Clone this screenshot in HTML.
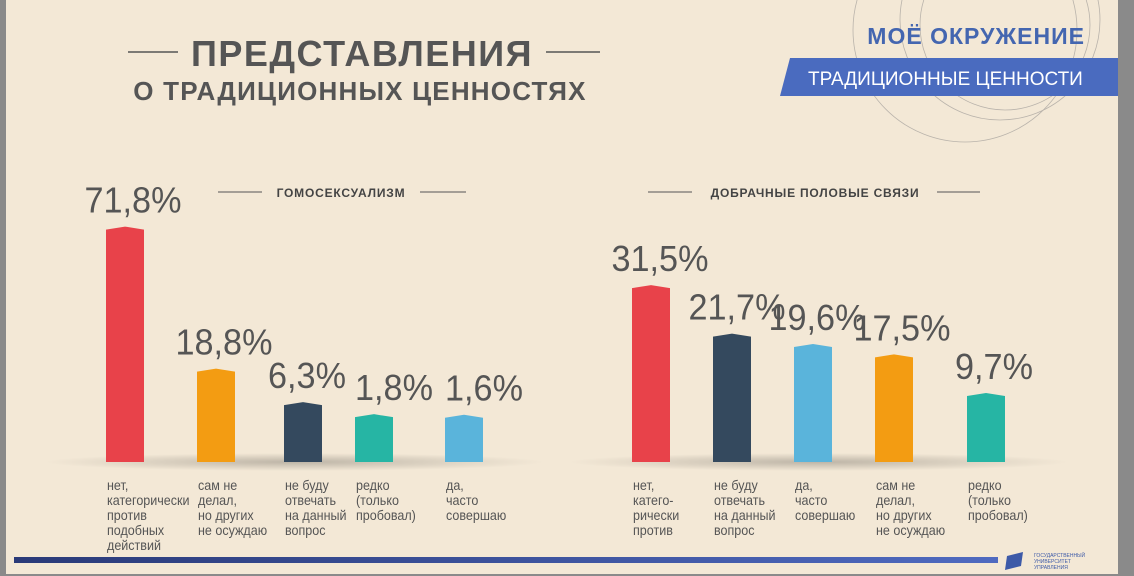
<!DOCTYPE html>
<html><head><meta charset="utf-8"><style>
body{margin:0;width:1134px;height:576px;overflow:hidden;background:#8a8a8a}
svg{display:block;font-family:"Liberation Sans","DejaVu Sans",sans-serif}
</style></head><body>
<svg width="1134" height="576" viewBox="0 0 1134 576">
<defs>
<linearGradient id="stripe" x1="0" x2="1"><stop offset="0" stop-color="#2a3a78"/><stop offset="1" stop-color="#4f6ac0"/></linearGradient>
<radialGradient id="shadow" cx="0.5" cy="0.5" r="0.5"><stop offset="0" stop-color="#000" stop-opacity="0.22"/><stop offset="1" stop-color="#000" stop-opacity="0"/></radialGradient>
</defs>
<rect x="6" y="0" width="1112" height="574" fill="#f3e8d6"/>
<g fill="none" stroke="#b9b3ab" stroke-width="0.8">
<circle cx="965" cy="30" r="112"/><circle cx="1000" cy="20" r="100"/><circle cx="1005" cy="25" r="85"/>
</g>
<g>
<line x1="128" y1="52" x2="178" y2="52" stroke="#555" stroke-width="1.5"/>
<line x1="546" y1="52" x2="600" y2="52" stroke="#555" stroke-width="1.5"/>
<text x="362" y="66" text-anchor="middle" font-size="36" font-weight="bold" fill="#555" letter-spacing="1.5">ПРЕДСТАВЛЕНИЯ</text>
<text x="360" y="100" text-anchor="middle" font-size="26" font-weight="bold" fill="#555" letter-spacing="1.2">О ТРАДИЦИОННЫХ ЦЕННОСТЯХ</text>
</g>
<text x="1085" y="44" text-anchor="end" font-size="23" font-weight="bold" fill="#4466b0" letter-spacing="1">МОЁ ОКРУЖЕНИЕ</text>
<path d="M790 58 L1118 58 L1118 96 L780 96 Z" fill="#4a6bbf"/>
<text x="808" y="85" font-size="19" fill="#fff">ТРАДИЦИОННЫЕ ЦЕННОСТИ</text>
<g id="charts"></g>
<rect x="14" y="557" width="984" height="6" fill="url(#stripe)"/>
<g>
<path d="M1007 556 l16 -4 l-2 14 l-16 4 Z" fill="#3d5aa8"/>
<text x="1034" y="557" font-size="5" fill="#3d5aa8">ГОСУДАРСТВЕННЫЙ</text>
<text x="1034" y="563" font-size="5" fill="#3d5aa8">УНИВЕРСИТЕТ</text>
<text x="1034" y="569" font-size="5" fill="#3d5aa8">УПРАВЛЕНИЯ</text>
</g>
</svg>
<script>
const leftValues=[71.8,18.8,6.3,1.8,1.6];
const leftLabels=[["нет,","категорически","против","подобных","действий"],["сам не","делал,","но других","не осуждаю"],["не буду","отвечать","на данный","вопрос"],["редко","(только","пробовал)"],["да,","часто","совершаю"]];
const leftColors=["#e8424a","#f39c12","#34495e","#26b5a4","#5ab4db"];
const rightValues=[31.5,21.7,19.6,17.5,9.7];
const rightLabels=[["нет,","катего-","рически","против"],["не буду","отвечать","на данный","вопрос"],["да,","часто","совершаю"],["сам не","делал,","но других","не осуждаю"],["редко","(только","пробовал)"]];
const rightColors=["#e8424a","#34495e","#5ab4db","#f39c12","#26b5a4"];
const leftSlots=[106,197,284,355,445];
const rightSlots=[632,713,794,875,967];
const NS="http://www.w3.org/2000/svg";
const g=document.getElementById('charts');
function el(t,a,p){const e=document.createElementNS(NS,t);for(const k in a)e.setAttribute(k,a[k]);(p||g).appendChild(e);return e;}
function chart(name,title,tx,l1,l2,slots,values,labels,colors,a,b,lo){
  const grp=el('g',{});
  
  
  const t=el('text',{x:tx,y:197,'text-anchor':'middle','font-size':12,'font-weight':'bold',fill:'#444','letter-spacing':'0.8'},grp);
  t.textContent=title;
  
  
  el('line',{x1:l1[0],x2:l1[1],y1:192,y2:192,stroke:'#555','stroke-width':1},grp);
  el('line',{x1:l2[0],x2:l2[1],y1:192,y2:192,stroke:'#555','stroke-width':1},grp);
  const base=462;
  const mid=(slots[0]+slots[slots.length-1]+38)/2;
  const sh=el('ellipse',{cx:mid,cy:base,rx:250,ry:9,fill:'url(#shadow)'},grp);
  
  
  values.forEach((v,i)=>{
    const h=a+b*v, x=slots[i], y=base-h;
    const r=el('path',{d:`M${x} ${base} L${x} ${y+2} L${x+19} ${y-1} L${x+38} ${y+2} L${x+38} ${base} Z`,fill:colors[i]},grp);
    
    
    const cx=x+19+lo[i], cy=y-15;
    const vt=el('text',{x:0,y:0,'text-anchor':'middle','font-size':36,fill:'#555',transform:`translate(${cx},${cy}) scale(0.95,1)`},grp);
    vt.textContent=v.toFixed(1).replace('.',',')+'%';
    
    
    const ct=el('text',{x:0,y:0,'font-size':13.5,fill:'#555',transform:`translate(${x+1},490) scale(0.93,1)`},grp);
    
    
    labels[i].forEach((s,j)=>{const ts=el('tspan',{x:0,dy:j?15:0},ct);ts.textContent=s;});
  });
}
chart('chart-homosexuality','ГОМОСЕКСУАЛИЗМ',341,[218,262],[420,466],leftSlots,leftValues,leftLabels,leftColors,42,2.68,[8,8,4,20,20]);
chart('chart-premarital','ДОБРАЧНЫЕ ПОЛОВЫЕ СВЯЗИ',815,[648,692],[937,980],rightSlots,rightValues,rightLabels,rightColors,20,4.95,[9,5,4,8,8]);
</script>
</body></html>
